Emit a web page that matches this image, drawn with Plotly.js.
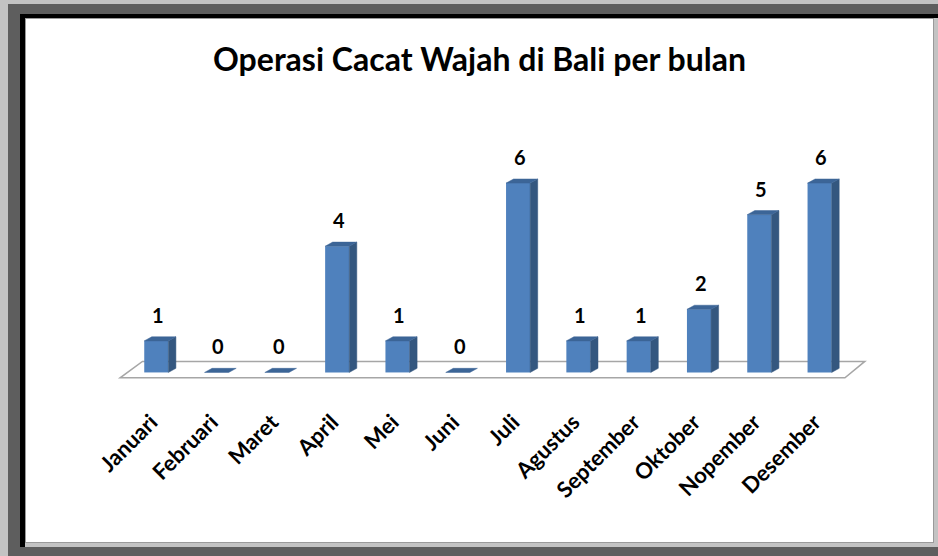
<!DOCTYPE html>
<html>
<head>
<meta charset="utf-8">
<script src="https://cdn.plot.ly/plotly-3.0.1.min.js"></script>
<style>
  html, body { margin: 0; padding: 0; width: 938px; height: 556px; overflow: hidden; background: #c3c3c3; }
  .fr { position: absolute; }
</style>
</head>
<body>
<div class="fr" style="left:8px;top:4px;width:930px;height:552px;background:#5e5e5e;"></div>
<div class="fr" style="left:20px;top:14px;width:918px;height:533px;background:#000;"></div>
<div class="fr" style="left:25px;top:18px;width:913px;height:529px;background:#c3c3c3;"></div>
<div class="fr" style="left:25px;top:18px;width:909px;height:525px;background:#9a9a9a;"></div>
<div id="chart" class="fr" style="left:26px;top:19px;width:907px;height:523px;background:#fff;"></div>
<script>
// ---- data ----
const months = ["Januari","Februari","Maret","April","Mei","Juni","Juli","Agustus","September","Oktober","Nopember","Desember"];
const values = [1, 0, 0, 4, 1, 0, 6, 1, 1, 2, 5, 6];
const title = "Operasi Cacat Wajah di Bali per bulan";

// ---- 3D look parameters (in axis units) ----
const idx = months.map((m, i) => i);
const halfW = 0.2;     // half bar width (category units)
const dx = 0.125;      // depth shift right
const dy = 0.13;       // depth shift up

// side faces and top faces as polygons separated by null
const sideX = [], sideY = [], topX = [], topY = [];
idx.forEach((i) => {
  const v = values[i];
  const r = i + halfW, l = i - halfW;
  if (v > 0) {
    sideX.push(r, r + dx, r + dx, r, r, null);
    sideY.push(0, dy, v + dy, v, 0, null);
  }
  topX.push(l, r, r + dx, l + dx, l, null);
  topY.push(v, v, v + dy, v + dy, v, null);
});

// floor parallelogram (drawn as a shape below the traces)
const floorX = [-0.6, 11.42, 11.75, -0.23];
const floorY = [-0.17, -0.17, 0.35, 0.35];
const floorPath = floorX.map((x, k) => (k ? "L" : "M") + x + "," + floorY[k]).join(" ") + " Z";

const traces = [
  { type: "bar", x: idx, y: values, width: 2 * halfW,
    marker: { color: "#4f81bd", line: { width: 0 } }, showlegend: false },
  { type: "scatter", mode: "lines", x: sideX, y: sideY, fill: "toself", connectgaps: false,
    fillcolor: "#34577f", line: { width: 0.5, color: "#34577f" }, hoverinfo: "skip", showlegend: false },
  { type: "scatter", mode: "lines", x: topX, y: topY, fill: "toself", connectgaps: false,
    fillcolor: "#3c6597", line: { width: 0.5, color: "#3c6597" }, hoverinfo: "skip", showlegend: false }
];

const annotations = idx.map((i) => ({
  x: i + 0.03, y: values[i], xref: "x", yref: "y",
  text: String(values[i]), showarrow: false, yanchor: "bottom", yshift: 12,
  font: { family: "Lato, 'Open Sans', sans-serif", size: 20, color: "#000", weight: "bold" }
}));

const layout = {
  width: 907, height: 523,
  margin: { l: 70, r: 35, t: 101, b: 138 },
  paper_bgcolor: "#ffffff", plot_bgcolor: "rgba(0,0,0,0)",
  title: { text: title, xref: "container", x: 0.5, xanchor: "center",
    yref: "container", y: 0.922, yanchor: "middle",
    font: { family: "Lato, 'Open Sans', sans-serif", size: 32, color: "#000", weight: "bold" } },
  xaxis: { range: [-1, 12.3], tickmode: "array", tickvals: idx, ticktext: months,
    tickangle: -45, showgrid: false, zeroline: false, showline: false, ticks: "",
    ticklabelshift: -5, fixedrange: true,
    tickfont: { family: "Lato, 'Open Sans', sans-serif", size: 22, color: "#000", weight: "bold" } },
  yaxis: { range: [-1, 8], showgrid: false, zeroline: false, showline: false,
    showticklabels: false, ticks: "", fixedrange: true },
  shapes: [{ type: "path", path: floorPath, xref: "x", yref: "y", layer: "below",
    fillcolor: "#ffffff", line: { color: "#a6a6a6", width: 1.5 } }],
  annotations: annotations,
  showlegend: false
};

Plotly.newPlot("chart", traces, layout, { displayModeBar: false, staticPlot: true });
</script>
</body>
</html>
